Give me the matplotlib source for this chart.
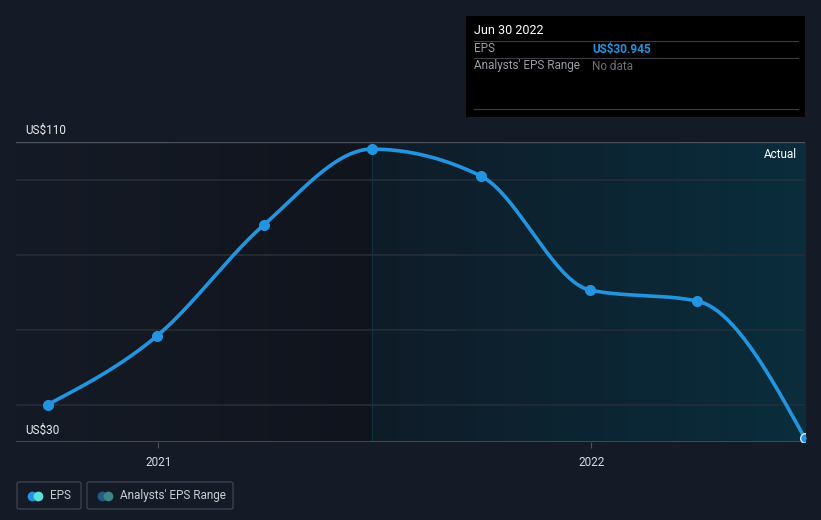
import numpy as np
import matplotlib
matplotlib.use("Agg")
from matplotlib import pyplot as plt
import matplotlib.dates as mdates
from matplotlib.patches import Rectangle, FancyBboxPatch
from matplotlib.lines import Line2D

plt.rcParams['font.family'] = ['Roboto', 'DejaVu Sans']

dates = ['2020-09-30', '2020-12-31', '2021-03-31', '2021-06-30',
         '2021-09-30', '2021-12-31', '2022-03-31', '2022-06-30']
eps = [40.0, 58.3, 87.9, 108.1, 100.9, 70.5, 67.6, 30.945]
y_labels = ['US$110', 'US$30']
x_ticks = ['2021-01-01', '2022-01-01']
x_tick_labels = ['2021', '2022']
grid_vals = [40, 60, 80, 100]
actual_start = '2021-06-30'

BG = '#151b26'
BLUE = '#2394df'

x = mdates.datestr2num(dates)
y = np.array(eps)


def monotone_curve(xs, ys, n=40):
    # d3 curveMonotoneX style
    h = np.diff(xs)
    s = np.diff(ys) / h
    t = np.zeros(len(xs))
    for i in range(1, len(xs) - 1):
        p = (s[i - 1] * h[i] + s[i] * h[i - 1]) / (h[i - 1] + h[i])
        t[i] = (np.sign(s[i - 1]) + np.sign(s[i])) * min(abs(s[i - 1]), abs(s[i]), 0.5 * abs(p))
    t[0] = (3 * s[0] - t[1]) / 2
    t[-1] = (3 * s[-1] - t[-2]) / 2
    px, py = [], []
    u = np.linspace(0, 1, n)
    for i in range(len(xs) - 1):
        x0, x1, y0, y1 = xs[i], xs[i + 1], ys[i], ys[i + 1]
        dx = (x1 - x0) / 3
        cx = [x0, x0 + dx, x1 - dx, x1]
        cy = [y0, y0 + dx * t[i], y1 - dx * t[i + 1], y1]
        b = [(1 - u) ** 3, 3 * u * (1 - u) ** 2, 3 * u ** 2 * (1 - u), u ** 3]
        px.append(sum(bb * c for bb, c in zip(b, cx)))
        py.append(sum(bb * c for bb, c in zip(b, cy)))
    return np.concatenate(px), np.concatenate(py)


fig = plt.figure(figsize=(8.21, 5.2), dpi=100, facecolor=BG)
W, H = 821, 520
ax = fig.add_axes([16 / W, (H - 442) / H, (805 - 16) / W, 300 / H])
ax.set_facecolor(BG)

x_left = x[1] - (157 - 16) * 365 / 433
x_right = x[-1]
ax.set_xlim(x_left, x_right)
ax.set_ylim(30, 110)
xa = mdates.datestr2num(actual_start)

# background gradients
g1 = np.linspace(0, 1, 256).reshape(1, -1)
c_a = np.array(matplotlib.colors.to_rgb('#151b26'))
c_b = np.array(matplotlib.colors.to_rgb('#10141d'))
img1 = c_a[None, None, :] * (1 - g1[..., None]) + c_b[None, None, :] * g1[..., None]
ax.imshow(img1, extent=[x_left, xa, 30, 110], aspect='auto', zorder=0)
c_c = np.array(matplotlib.colors.to_rgb('#0f1c28'))
c_d = np.array(matplotlib.colors.to_rgb('#0a2d3c'))
img2 = c_c[None, None, :] * (1 - g1[..., None]) + c_d[None, None, :] * g1[..., None]
ax.imshow(img2, extent=[xa, x_right, 30, 110], aspect='auto', zorder=0)
ax.axvline(xa, color='#123440', lw=0.8, zorder=1)

for gv in grid_vals:
    ax.axhline(gv, color='#252d38', lw=1.2, zorder=1)
ax.axhline(110, color='#4a525e', lw=1, zorder=2)
ax.axhline(30, color='#4a525e', lw=1.2, zorder=2)

for s in ax.spines.values():
    s.set_visible(False)
ax.set_xticks(mdates.datestr2num(x_ticks))
ax.set_xticklabels(x_tick_labels, color='#d8dbe0', fontsize=8.5)
ax.tick_params(axis='x', length=4, color='#4a525e', pad=6)
ax.set_yticks([])

cx, cy = monotone_curve(x, y)
ax.plot(cx, cy, color=BLUE, lw=2.6, zorder=4, solid_capstyle='round', clip_on=False)
ax.plot(x[:-1], y[:-1], 'o', color=BLUE, ms=7, zorder=5)
ax.plot(x[-1:], y[-1:], 'o', mfc=BLUE, mec='#d0e8f8', mew=1, ms=7, zorder=5)

ax.text(1 - 8 / 789, 1 - 12 / 300, 'Actual', transform=ax.transAxes, ha='right', va='center',
        color='#ffffff', fontsize=8.5, zorder=6)

fig.text(25 / W, 1 - 130 / H, y_labels[0], color='#e8eaed', fontsize=8.5, va='center')
fig.text(25 / W, 1 - 430 / H, y_labels[1], color='#e8eaed', fontsize=8.5, va='center')

# tooltip
fig.patches.append(Rectangle((466 / W, 1 - 117 / H), (805 - 466) / W, 101 / H,
                             transform=fig.transFigure, facecolor='#000000', edgecolor='none'))
for yy in [41, 58, 109]:
    fig.lines.append(Line2D([474 / W, 798 / W], [1 - yy / H, 1 - yy / H],
                            transform=fig.transFigure, color='#3a3d42', lw=0.8))
fig.text(474 / W, 1 - 31 / H, 'Jun 30 2022', color='#ffffff', fontsize=9, va='center')
fig.text(474 / W, 1 - 49 / H, 'EPS', color='#9a9ea5', fontsize=8.5, va='center')
fig.text(592 / W, 1 - 49 / H, 'US$30.945', color=BLUE, fontsize=8.5, va='center', fontweight='bold')
fig.text(474 / W, 1 - 66 / H, "Analysts' EPS Range", color='#9a9ea5', fontsize=8.5, va='center')
fig.text(592 / W, 1 - 66 / H, 'No data', color='#6b6f76', fontsize=8.5, va='center')

# legend
legend_items = [('EPS', 17, 81, '#2394df', '#5ce0d8'),
                ("Analysts' EPS Range", 87, 233, '#255a85', '#3f8585')]
for label, x0, x1, c1, c2 in legend_items:
    fig.patches.append(FancyBboxPatch((x0 / W, 1 - 509 / H), (x1 - x0) / W, 27 / H,
                                      boxstyle='round,pad=0,rounding_size=0.003',
                                      transform=fig.transFigure, facecolor='none',
                                      edgecolor='#3a414c', lw=1))
    fig.lines.append(Line2D([(x0 + 15) / W], [1 - 495.5 / H], transform=fig.transFigure,
                            marker='o', ms=7, color=c1, mec='none'))
    fig.lines.append(Line2D([(x0 + 21) / W], [1 - 495.5 / H], transform=fig.transFigure,
                            marker='o', ms=7, color=c2, mec='none'))
    fig.text((x0 + 33) / W, 1 - 495.5 / H, label, color='#c8ccd2', fontsize=8.5, va='center')

fig.savefig('out.png', dpi=100, facecolor=BG)
